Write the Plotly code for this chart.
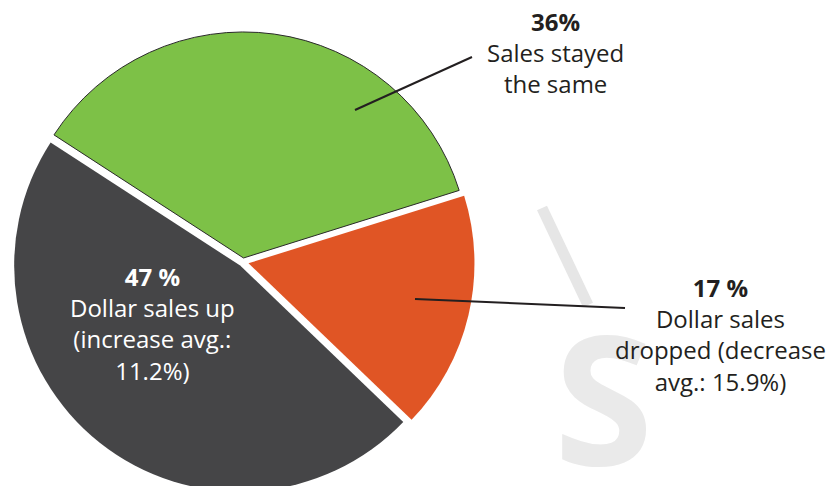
import plotly.graph_objects as go

# Данные диаграммы
labels = ['Sales stayed the same', 'Dollar sales dropped', 'Dollar sales up']
values = [36, 17, 47]
colors = ['#7DC147', '#E05525', '#454547']
pulls = [0.018, 0.025, 0.02]

W, H = 835, 486
OFF = 8  # отступ body в странице


def px(x, y):
    # пиксели экрана -> координаты paper
    return (x - OFF) / W, 1 - (y - OFF) / H


fig = go.Figure(go.Pie(
    labels=labels,
    values=values,
    sort=False,
    direction='clockwise',
    rotation=-57,
    pull=pulls,
    marker=dict(colors=colors,
                line=dict(color=['#2a2a2a', 'rgba(0,0,0,0)', 'rgba(0,0,0,0)'], width=[1, 0, 0])),
    textinfo='none',
    hoverinfo='label+percent',
    domain=dict(x=[0.0, 0.5628], y=[0.0007, 0.954]),
))

# Водяной знак
x0, y0 = px(542, 208)
x1, y1 = px(588, 305)
fig.add_shape(type='line', xref='paper', yref='paper', x0=x0, y0=y0, x1=x1, y1=y1,
              line=dict(color='#e6e6e6', width=11))
sx, sy = px(603, 395)
fig.add_annotation(xref='paper', yref='paper', x=sx, y=sy, text='<b>S</b>', showarrow=False,
                   xanchor='center', yanchor='middle',
                   font=dict(family='Open Sans', size=180, color='#eaeaea'))

# Линии-выноски
for (a, b), (c, d) in [((355, 110), (472, 57)), ((415, 299), (625, 308))]:
    x0, y0 = px(a, b)
    x1, y1 = px(c, d)
    fig.add_shape(type='line', xref='paper', yref='paper', x0=x0, y0=y0, x1=x1, y1=y1,
                  line=dict(color='#231f20', width=2))

# Подписи
notes = [
    ((555, 53), '<b>36%</b><br>Sales stayed<br>the same', '#231f20'),
    ((720, 334), '<b>17 %</b><br>Dollar sales<br>dropped (decrease<br>avg.: 15.9%)', '#231f20'),
    ((152, 323), '<b>47 %</b><br>Dollar sales up<br>(increase avg.:<br>11.2%)', '#ffffff'),
]
for (x, y), t, c in notes:
    ax_, ay_ = px(x, y)
    fig.add_annotation(xref='paper', yref='paper', x=ax_, y=ay_, text=t, showarrow=False,
                       xanchor='center', yanchor='middle', align='center',
                       font=dict(family='Open Sans', size=24, color=c))

fig.update_layout(width=W, height=H, margin=dict(l=0, r=0, t=0, b=0),
                  showlegend=False, paper_bgcolor='white', plot_bgcolor='white')

fig.write_html("out.html")
